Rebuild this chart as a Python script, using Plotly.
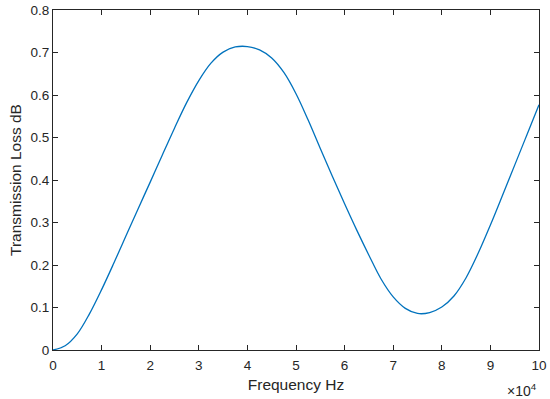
import plotly.graph_objects as go

# frequency in Hz, transmission loss in dB
freq_hz = [0, 2500, 5000, 7500, 10000, 12500, 15000, 17500, 20000, 22500,
           25000, 27500, 30000, 32500, 35000, 37500, 40000, 42500,
           45000, 47500, 50000, 52500, 55000, 57500, 60000, 62500, 65000,
           67500, 70000, 72500, 75000, 77500, 80000, 82500, 85000,
           87500, 90000, 92500, 95000, 97500, 100000]
loss_db = [0.0, 0.010, 0.038, 0.085, 0.142, 0.204, 0.268, 0.332, 0.395, 0.459,
           0.522, 0.582, 0.634, 0.675, 0.701, 0.713, 0.714, 0.706,
           0.687, 0.653, 0.603, 0.541, 0.474, 0.408, 0.344, 0.282, 0.223,
           0.167, 0.125, 0.098, 0.086, 0.088, 0.101, 0.127, 0.170,
           0.228, 0.294, 0.364, 0.435, 0.506, 0.577]

x_ticks = [0, 10000, 20000, 30000, 40000, 50000, 60000, 70000, 80000, 90000, 100000]
x_tick_text = ['0', '1', '2', '3', '4', '5', '6', '7', '8', '9', '10']
y_ticks = [0, 0.1, 0.2, 0.3, 0.4, 0.5, 0.6, 0.7, 0.8]
y_tick_text = ['0', '0.1', '0.2', '0.3', '0.4', '0.5', '0.6', '0.7', '0.8']

text_col = '#262626'
axis_style = dict(showline=True, linecolor=text_col, linewidth=1, mirror='ticks',
                  ticks='inside', ticklen=5, tickcolor=text_col, showgrid=False,
                  zeroline=False, automargin=False,
                  tickfont=dict(size=13.5, color=text_col))

fig = go.Figure()
fig.add_trace(go.Scatter(x=freq_hz, y=loss_db, mode='lines', line_shape='spline',
                         line=dict(color='#0072BD', width=1.3)))

fig.update_layout(
    width=550, height=399,
    margin=dict(l=53, r=11, t=10, b=49),
    plot_bgcolor='white', paper_bgcolor='white',
    font=dict(family='Liberation Sans, Arial, sans-serif', color=text_col),
    showlegend=False,
    xaxis=dict(range=[0, 100000], tickvals=x_ticks, ticktext=x_tick_text,
               ticklabelstandoff=3,
               title=dict(text='Frequency Hz', font=dict(size=15.5), standoff=6), **axis_style),
    yaxis=dict(range=[0, 0.8], tickvals=y_ticks, ticktext=y_tick_text,
               title=dict(text='Transmission Loss dB', font=dict(size=15.5), standoff=5), **axis_style),
    annotations=[dict(text='\u00d710<sup>4</sup>', xref='paper', yref='paper', x=1, y=-0.085,
                      xanchor='right', yanchor='top', showarrow=False,
                      font=dict(size=14, color=text_col))],
)

# remove the default page margin so the figure sits at the window's corner
fig.write_html('out.html', config={'displayModeBar': False},
               post_script="document.body.style.margin='0';")
